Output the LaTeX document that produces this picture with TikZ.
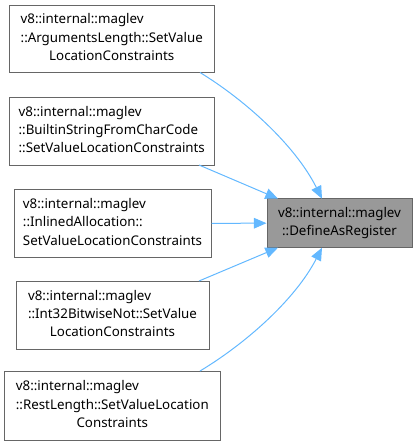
\documentclass[tikz,border=0pt]{standalone}
\usepackage{fontspec}
\setmainfont{Noto Sans}
\usetikzlibrary{arrows.meta}
\definecolor{edgeblue}{HTML}{63B8FF}
\definecolor{boxborder}{HTML}{666666}
\definecolor{targetfill}{HTML}{999999}
\newcommand\lbl[2]{\begin{tabular}{@{}l@{}}#1\\\multicolumn{1}{@{}c@{}}{#2}\end{tabular}}
\begin{document}
\begin{tikzpicture}[x=0.75pt,y=-0.75pt,
  srcbox/.style={draw=boxborder,fill=white,line width=0.75pt,inner sep=0pt,
    font=\fontsize{10}{13.6}\selectfont},
  edge/.style={draw=edgeblue,line width=0.75pt,
    -{Triangle[length=9.5pt,width=8pt]}}]
\useasboundingbox (0,0) rectangle (417,446);
\node[srcbox,minimum width=204.5*0.75pt,minimum height=67*0.75pt] (a) at (111.75,38.5)
  {\lbl{v8::internal::maglev\\::ArgumentsLength::SetValue}{LocationConstraints}};
\node[srcbox,minimum width=204.5*0.75pt,minimum height=68*0.75pt] (b) at (111.75,131)
  {\lbl{v8::internal::maglev\\::BuiltinStringFromCharCode}{::SetValueLocationConstraints}};
\node[srcbox,minimum width=197*0.75pt,minimum height=68.5*0.75pt] (c) at (112.5,223.3)
  {\lbl{v8::internal::maglev\\::InlinedAllocation::}{SetValueLocationConstraints}};
\node[srcbox,minimum width=193*0.75pt,minimum height=68*0.75pt] (d) at (112.5,315)
  {\lbl{v8::internal::maglev\\::Int32BitwiseNot::SetValue}{LocationConstraints}};
\node[srcbox,minimum width=216*0.75pt,minimum height=69*0.75pt] (e) at (112.3,405.5)
  {\lbl{v8::internal::maglev\\::RestLength::SetValueLocation}{Constraints}};
\node[srcbox,fill=targetfill,minimum width=145*0.75pt,minimum height=49*0.75pt] (t) at (339.5,223.2)
  {\lbl{v8::internal::maglev}{::DefineAsRegister}};
\coordinate (a1) at (200,72.5);
\coordinate (b1) at (199,165);
\coordinate (d1) at (199,281);
\coordinate (e1) at (200,371);
\coordinate (t1) at (322,198.7);
\coordinate (t2) at (278,198.7);
\coordinate (t4) at (278,247.7);
\coordinate (t5) at (322,247.7);
\draw[edge] (a1) .. controls (245,100) and (295,145) .. (t1);
\draw[edge] (b1) -- (t2);
\draw[edge] (c.east) -- (t.west);
\draw[edge] (d1) -- (t4);
\draw[edge] (e1) .. controls (245,344) and (295,300) .. (t5);
\end{tikzpicture}
\end{document}
